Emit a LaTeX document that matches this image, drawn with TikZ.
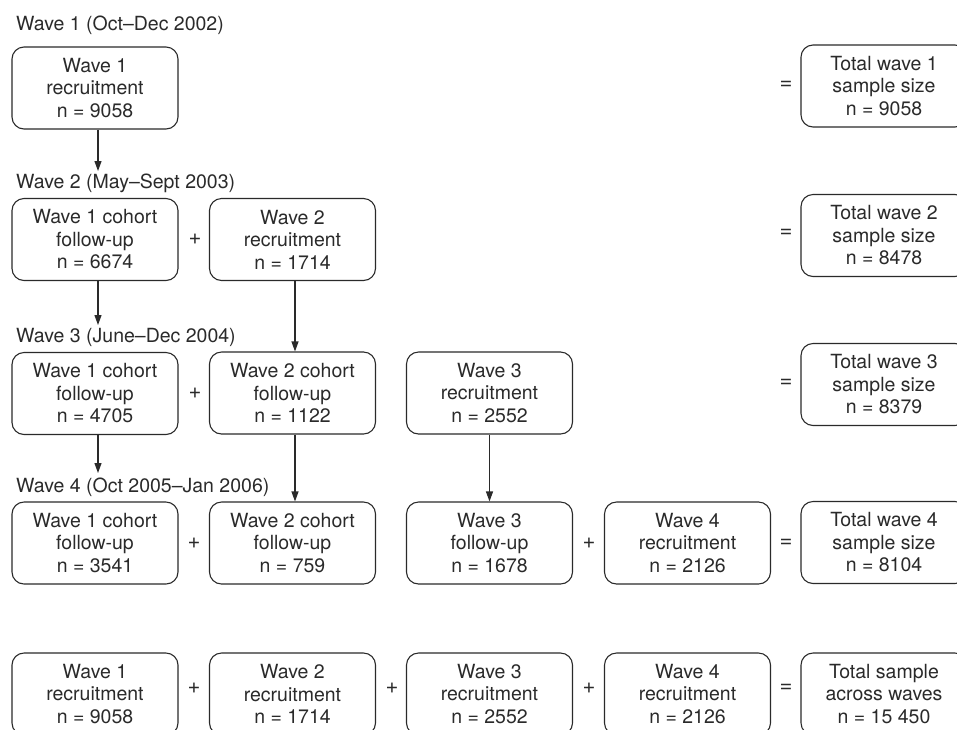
\documentclass[tikz,border=0pt]{standalone}
\usepackage{fontspec}
\setmainfont{TeX Gyre Heros}
\usetikzlibrary{arrows.meta}
\definecolor{ink}{HTML}{2A2A2A}
\begin{document}
\begin{tikzpicture}[x=1pt,y=1pt,
  txt/.style={font=\fontsize{19.5}{22.5}\selectfont, text=ink},
  box/.style={txt, draw=ink, line width=1.1pt, rounded corners=12pt,
    minimum width=166pt, minimum height=82pt, align=center, inner sep=0pt},
  op/.style={font=\fontsize{22}{24}\selectfont, text=ink, inner sep=0pt},
  hdr/.style={txt, anchor=west, inner sep=0pt},
  arr/.style={draw=ink, line width=1.1pt, -{Triangle[length=10pt,width=7pt]}}]
\useasboundingbox (0,0) rectangle (957,-729);

% headers
\node[hdr] (h1) at (16,-25) {Wave 1 (Oct–Dec 2002)};
\node[hdr] (h2) at (16,-183) {Wave 2 (May–Sept 2003)};
\node[hdr] (h3) at (16,-337) {Wave 3 (June–Dec 2004)};
\node[hdr] (h4) at (16,-487) {Wave 4 (Oct 2005–Jan 2006)};

% row 1
\node[box] (r1a) at (95,-88) {Wave 1\\recruitment\\n = 9058};
\node[box] (r1t) at (884,-86) {Total wave 1\\sample size\\n = 9058};
\node[op] (r1e) at (786,-85) {=};

% row 2
\node[box] (r2a) at (95,-239.5) {Wave 1 cohort\\follow-up\\n = 6674};
\node[op] (r2p) at (195,-239.5) {+};
\node[box] (r2b) at (292.5,-239.5) {Wave 2\\recruitment\\n = 1714};
\node[box] (r2t) at (884,-235.5) {Total wave 2\\sample size\\n = 8478};
\node[op] (r2e) at (786,-233) {=};

% row 3
\node[box] (r3a) at (95,-393.5) {Wave 1 cohort\\follow-up\\n = 4705};
\node[op] (r3p) at (195,-393.5) {+};
\node[box] (r3b) at (292.5,-393) {Wave 2 cohort\\follow-up\\n = 1122};
\node[box] (r3c) at (489.5,-393) {Wave 3\\recruitment\\n = 2552};
\node[box] (r3t) at (884,-384.5) {Total wave 3\\sample size\\n = 8379};
\node[op] (r3e) at (786,-383) {=};

% row 4
\node[box] (r4a) at (95,-543) {Wave 1 cohort\\follow-up\\n = 3541};
\node[op] (r4p1) at (194,-543) {+};
\node[box] (r4b) at (292.5,-543) {Wave 2 cohort\\follow-up\\n = 759};
\node[box] (r4c) at (489.5,-543) {Wave 3\\follow-up\\n = 1678};
\node[op] (r4p2) at (589,-543) {+};
\node[box] (r4d) at (687.5,-543) {Wave 4\\recruitment\\n = 2126};
\node[op] (r4e) at (786,-543) {=};
\node[box] (r4t) at (884,-542.5) {Total wave 4\\sample size\\n = 8104};

% row 5
\node[box] (r5a) at (95,-694) {Wave 1\\recruitment\\n = 9058};
\node[op] (r5p1) at (194,-688) {+};
\node[box] (r5b) at (292.5,-694) {Wave 2\\recruitment\\n = 1714};
\node[op] (r5p2) at (392,-688) {+};
\node[box] (r5c) at (489.5,-694) {Wave 3\\recruitment\\n = 2552};
\node[op] (r5p3) at (589,-688) {+};
\node[box] (r5d) at (687.5,-694) {Wave 4\\recruitment\\n = 2126};
\node[op] (r5e) at (786,-688) {=};
\node[box] (r5t) at (884,-694) {Total sample\\across waves\\n = 15 450};

% arrow free ends above headers
\coordinate (e2) at (98,-171);
\coordinate (e3) at (98,-325);
\coordinate (e4) at (98,-473);

% arrows
\draw[arr] ([xshift=3pt]r1a.south) -- (e2);
\draw[arr] ([xshift=3pt]r2a.south) -- (e3);
\draw[arr] ([xshift=3pt]r3a.south) -- (e4);
\draw[arr] ([xshift=2.5pt]r2b.south) -- ([xshift=2.5pt]r3b.north);
\draw[arr] ([xshift=2.5pt]r3b.south) -- ([xshift=2.5pt]r4b.north);
\draw[arr] (r3c.south) -- (r4c.north);
\end{tikzpicture}
\end{document}
